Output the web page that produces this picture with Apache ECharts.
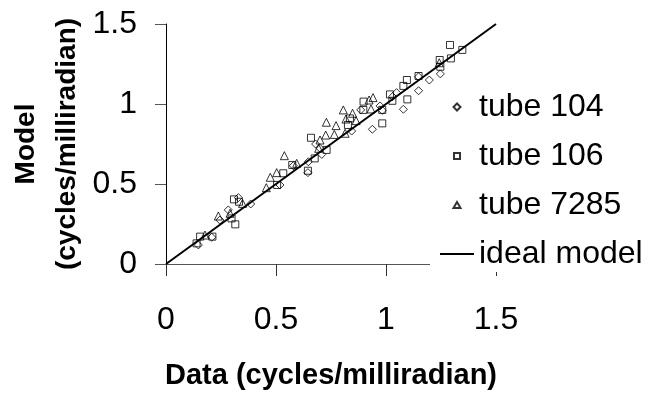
<!DOCTYPE html>
<html>
<head>
<meta charset="utf-8">
<script src="https://cdn.jsdelivr.net/npm/echarts@6/dist/echarts.min.js"></script>
<style>html,body{margin:0;padding:0;background:#fff}#c{width:665px;height:398px}</style>
</head>
<body>
<div id="c"></div>
<script>
const xTicks = [0, 0.5, 1, 1.5];
const seriesNames = ['tube 104', 'tube 106', 'tube 7285', 'ideal model'];

const tube104X = [1.247, 1.197, 1.148, 1.148, 1.079, 1.048, 1.030, 0.973, 0.983, 0.938, 0.885, 0.844, 0.700, 0.680, 0.708, 0.647, 0.645, 0.579, 0.518, 0.385, 0.329, 0.283, 0.245, 0.208, 0.147];
const tube104Y = [1.188, 1.150, 1.083, 1.170, 0.967, 1.071, 1.046, 0.988, 0.960, 0.842, 0.963, 0.831, 0.723, 0.750, 0.685, 0.639, 0.571, 0.614, 0.494, 0.375, 0.415, 0.338, 0.275, 0.167, 0.119];

const tube106X = [1.291, 1.347, 1.295, 1.244, 1.247, 1.148, 1.095, 1.079, 1.018, 1.029, 1.097, 0.983, 0.983, 0.898, 0.897, 0.836, 0.827, 0.659, 0.676, 0.730, 0.645, 0.574, 0.533, 0.505, 0.309, 0.332, 0.315, 0.298, 0.211, 0.155, 0.139];
const tube106Y = [1.369, 1.338, 1.285, 1.275, 1.233, 1.175, 1.150, 1.113, 1.060, 1.020, 1.029, 0.879, 0.963, 1.015, 0.963, 0.910, 0.869, 0.789, 0.660, 0.713, 0.583, 0.619, 0.567, 0.494, 0.404, 0.389, 0.248, 0.285, 0.171, 0.171, 0.129];

const tube7285X = [1.242, 0.941, 0.923, 0.806, 0.848, 0.818, 0.932, 0.864, 0.729, 0.773, 0.814, 0.765, 0.726, 0.700, 0.694, 0.594, 0.538, 0.474, 0.503, 0.456, 0.348, 0.291, 0.238, 0.177];
const tube7285Y = [1.258, 1.040, 1.025, 0.963, 0.942, 0.906, 0.969, 0.896, 0.886, 0.865, 0.817, 0.810, 0.806, 0.775, 0.723, 0.629, 0.677, 0.542, 0.571, 0.477, 0.379, 0.317, 0.300, 0.181];

const idealX = [0, 1.5];
const idealY = [0, 1.5];

function pairs(xs, ys) { return xs.map((x, i) => [x, ys[i]]); }

const FONT = "'Liberation Sans', Arial, sans-serif";
const hollow = { color: 'rgba(255,255,255,0)', borderColor: '#000', borderWidth: 1 };

// Legend icons: small symbol centred in a 34x8 box (move-to corners fix the box)
const BOX = 'M0,0M34,8';
const iconDiamond = 'path://' + BOX + 'M17,0.5L20.5,4L17,7.5L13.5,4Z';
const iconSquare = 'path://' + BOX + 'M14,1L20,1L20,7L14,7Z';
const iconTriangle = 'path://' + BOX + 'M17,1L20.5,7L13.5,7Z';

const chart = echarts.init(document.getElementById('c'), null, { renderer: 'canvas' });
chart.setOption({
  animation: false,
  backgroundColor: '#fff',
  textStyle: { fontFamily: FONT },
  grid: { left: 166, right: 169, top: 24, bottom: 134, containLabel: false },
  xAxis: {
    type: 'value', min: xTicks[0], max: xTicks[xTicks.length - 1], interval: 0.5,
    name: 'Data (cycles/milliradian)', nameLocation: 'middle', nameGap: 97,
    nameTextStyle: { fontFamily: FONT, fontSize: 29, fontWeight: 'bold', color: '#000' },
    axisLine: { show: true, onZero: false, lineStyle: { color: '#555', width: 1 } },
    axisTick: { show: true, inside: false, length: 12, lineStyle: { color: '#333' } },
    axisLabel: { fontFamily: FONT, fontSize: 32, color: '#000', margin: 40 },
    splitLine: { show: false }
  },
  yAxis: {
    type: 'value', min: 0, max: 1.5, interval: 0.5,
    name: 'Model\n(cycles/milliradian)', nameLocation: 'middle', nameGap: 78,
    nameTextStyle: { fontFamily: FONT, fontSize: 28, fontWeight: 'bold', color: '#000', lineHeight: 41 },
    axisLine: { show: true, onZero: false, lineStyle: { color: '#000', width: 1 } },
    axisTick: { show: true, inside: false, length: 11, lineStyle: { color: '#555' } },
    axisLabel: { fontFamily: FONT, fontSize: 32, color: '#000', margin: 29 },
    splitLine: { show: false }
  },
  legend: {
    orient: 'vertical', left: 430, top: 86,
    padding: [5, 9, 2, 9],
    backgroundColor: '#fff',
    itemWidth: 34, itemHeight: 8, itemGap: 17,
    textStyle: { fontFamily: FONT, fontSize: 32, color: '#000', lineHeight: 32 },
    data: [
      { name: seriesNames[0], icon: iconDiamond },
      { name: seriesNames[1], icon: iconSquare },
      { name: seriesNames[2], icon: iconTriangle },
      { name: seriesNames[3], itemStyle: { color: 'rgba(0,0,0,0)', borderWidth: 0, opacity: 0 } }
    ],
    z: 10
  },
  series: [
    { name: seriesNames[0], type: 'scatter', symbol: 'diamond', symbolSize: 8, itemStyle: hollow, data: pairs(tube104X, tube104Y), z: 3 },
    { name: seriesNames[1], type: 'scatter', symbol: 'rect', symbolSize: 7, itemStyle: hollow, data: pairs(tube106X, tube106Y), z: 3 },
    { name: seriesNames[2], type: 'scatter', symbol: 'triangle', symbolSize: 8, itemStyle: hollow, data: pairs(tube7285X, tube7285Y), z: 3 },
    { name: seriesNames[3], type: 'line', symbol: 'none', showSymbol: false, lineStyle: { color: '#000', width: 2 }, itemStyle: { color: '#000' }, data: pairs(idealX, idealY), z: 4 }
  ]
});
</script>
</body>
</html>
